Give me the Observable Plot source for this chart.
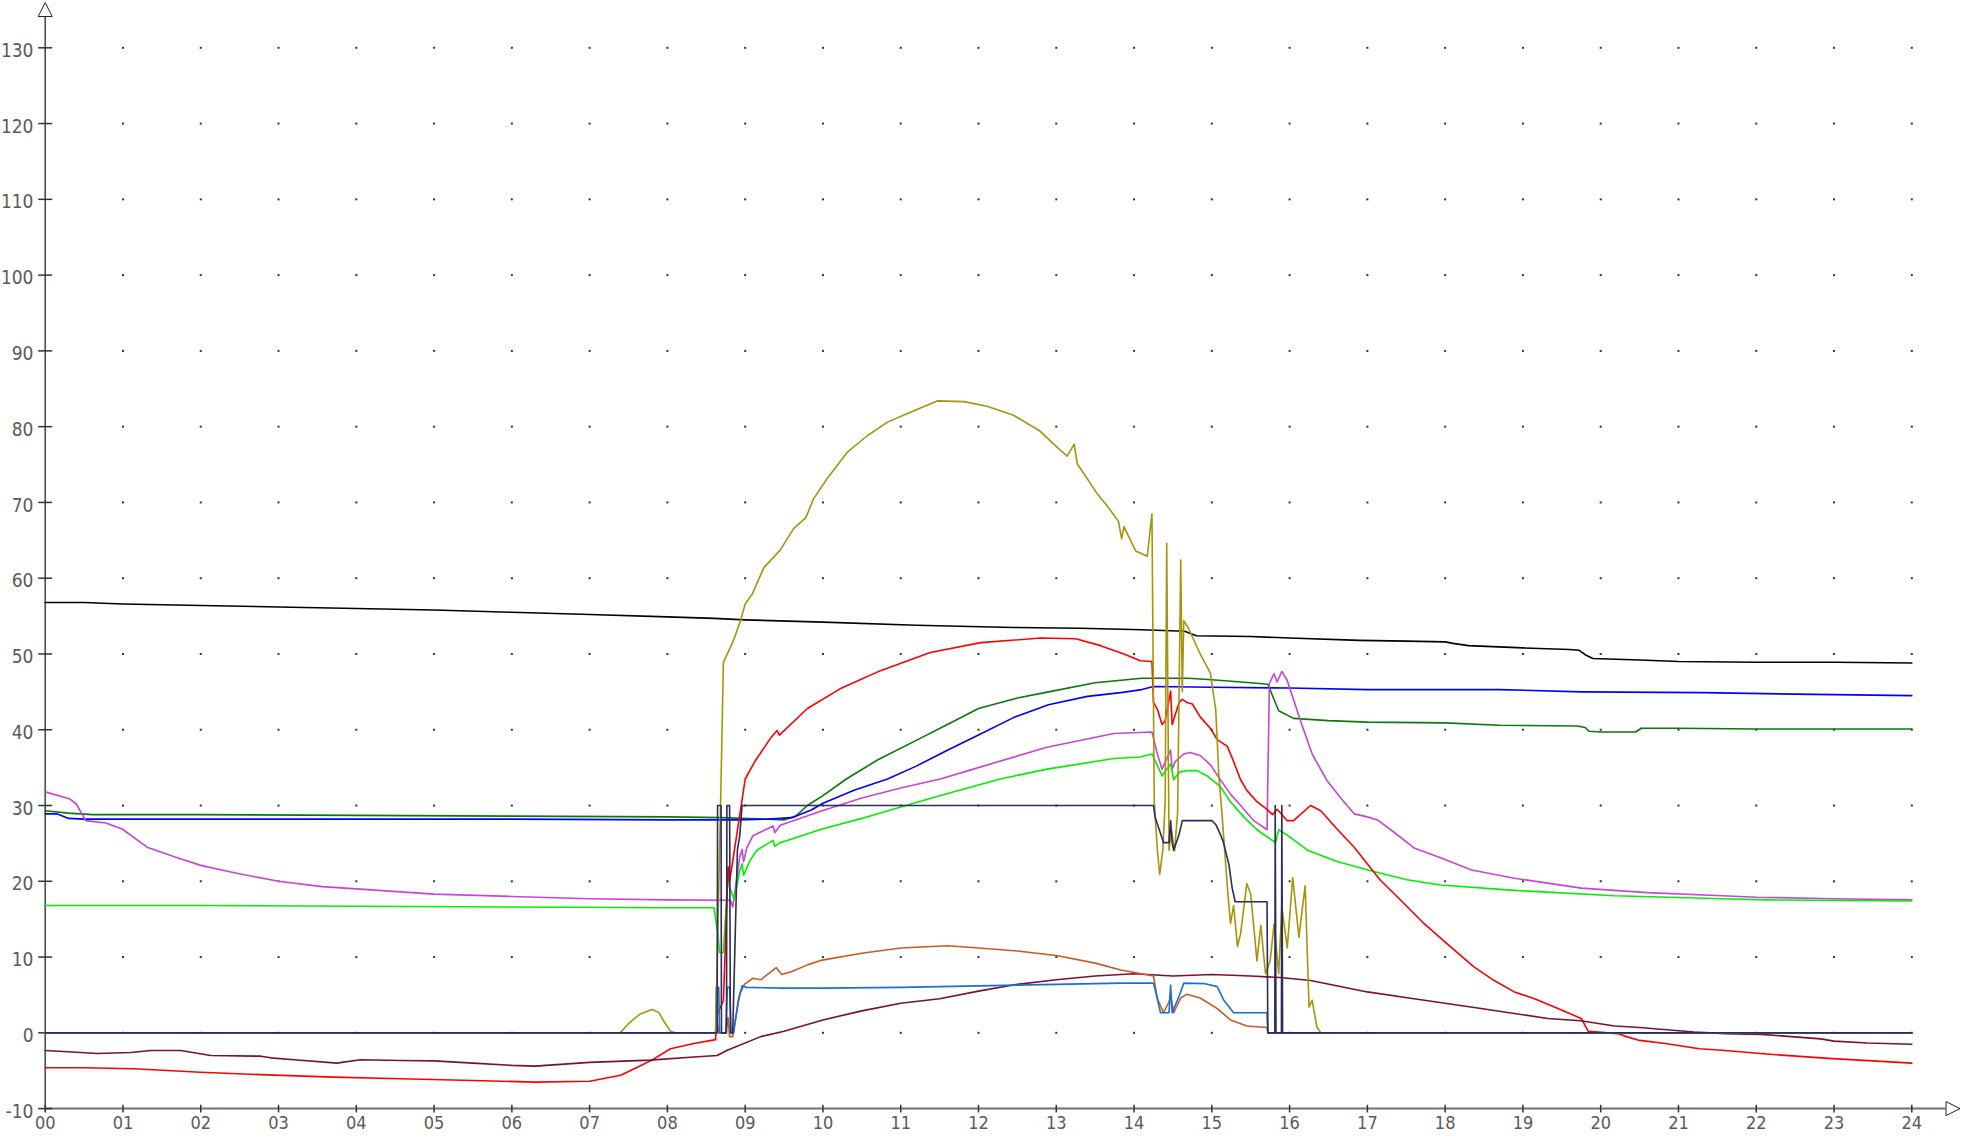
<!DOCTYPE html>
<html>
<head>
<meta charset="utf-8">
<script src="https://cdn.jsdelivr.net/npm/d3@7"></script>
<script src="https://cdn.jsdelivr.net/npm/@observablehq/plot@0.6"></script>
<style>
  html, body { margin: 0; padding: 0; background: #ffffff; overflow: hidden; }
  #chart svg { display: block; }
</style>
</head>
<body>
<div id="chart"></div>
<script>
// ---------- tick values ----------
const hourTicks = d3.range(0, 25);
const valueTicks = d3.range(-10, 131, 10);
const gridHours = d3.range(1, 25);
const gridValues = d3.range(0, 131, 10);

// ---------- series: [hour, value] ----------
const black = [[0,56.8],[0.5,56.8],[1,56.6],[2,56.4],[3,56.2],[4,56.0],[5,55.8],[6,55.5],[7,55.2],[8,54.9],[8.6,54.7],[9,54.5],[10,54.2],[11.2,53.8],[12.45,53.5],[13.3,53.4],[14.1,53.2],[14.65,53.0],[14.8,52.4],[15.5,52.3],[16,52.1],[16.9,51.8],[17.5,51.7],[18.0,51.6],[18.1,51.4],[18.3,51.1],[19.0,50.8],[19.6,50.6],[19.72,50.5],[19.8,49.9],[19.9,49.4],[20.5,49.2],[21.0,49.0],[22,48.9],[23,48.9],[24,48.8]];

const darkGreen = [[0,29.3],[0.3,29.0],[0.6,28.8],[2,28.8],[4,28.7],[6,28.6],[8,28.5],[8.7,28.4],[9.3,28.2],[9.5,28.1],[9.65,28.6],[9.8,30.0],[10.0,31.3],[10.3,33.5],[10.7,36.0],[11.2,38.6],[11.6,40.7],[12.0,42.8],[12.5,44.2],[12.9,45.0],[13.5,46.2],[14.1,46.8],[14.7,46.8],[15.0,46.6],[15.5,46.2],[15.72,46.0],[15.8,44.0],[15.86,42.5],[16.05,41.5],[16.5,41.2],[17.0,41.0],[18.0,40.9],[18.7,40.6],[19.7,40.5],[19.8,40.3],[19.85,39.8],[20.0,39.7],[20.45,39.7],[20.52,40.2],[21,40.2],[22,40.1],[23,40.1],[24,40.1]];

const blue = [[0,28.9],[0.15,28.9],[0.3,28.3],[0.5,28.2],[2,28.2],[4,28.2],[6,28.2],[8,28.1],[8.9,28.1],[9.3,28.2],[9.6,28.4],[9.85,29.4],[10.0,30.3],[10.4,32.0],[10.83,33.5],[11.2,35.2],[11.6,37.3],[12.0,39.3],[12.45,41.6],[12.9,43.3],[13.4,44.4],[13.83,44.9],[14.1,45.3],[14.25,45.7],[15,45.6],[16,45.5],[17,45.3],[18.7,45.3],[19.75,45.0],[21.3,44.9],[22.5,44.7],[24,44.5]];

const magenta = [[0,31.8],[0.31,30.9],[0.4,30.2],[0.52,28.0],[0.78,27.7],[0.99,26.9],[1.31,24.5],[1.67,23.2],[2.0,22.1],[2.49,21.0],[3.0,20.0],[3.56,19.3],[4,19.0],[5,18.3],[6,18.0],[7,17.7],[8,17.55],[8.81,17.5],[8.84,16.6],[8.93,23.2],[8.96,24.2],[8.98,22.6],[9.02,24.4],[9.1,26.0],[9.36,27.3],[9.38,26.4],[9.45,27.4],[9.99,29.3],[10.5,31.0],[11.0,32.3],[11.51,33.5],[12.03,35.1],[12.88,37.7],[13.74,39.5],[14.23,39.7],[14.3,36.8],[14.36,34.8],[14.47,37.3],[14.49,34.8],[14.53,35.8],[14.64,36.8],[14.72,37.0],[14.85,36.6],[14.98,35.4],[15.11,33.4],[15.24,31.5],[15.37,30.0],[15.54,28.0],[15.71,26.8],[15.74,46.1],[15.8,47.4],[15.84,46.3],[15.9,47.7],[15.97,46.5],[16.14,41.2],[16.29,36.8],[16.48,33.3],[16.65,31.1],[16.83,28.9],[17.0,28.5],[17.13,28.1],[17.3,26.8],[17.6,24.4],[17.94,23.1],[18.34,21.5],[18.89,20.4],[19.75,19.1],[20.6,18.5],[21.56,18.1],[22,17.9],[23,17.7],[24,17.55]];

const lime = [[0,16.8],[2,16.8],[4,16.7],[6,16.6],[8,16.5],[8.6,16.5],[8.65,13.0],[8.67,10.6],[8.72,10.6],[8.78,21.0],[8.8,19.2],[8.86,17.6],[8.93,21.4],[8.96,22.3],[8.98,20.8],[9.06,22.7],[9.15,24.1],[9.36,25.4],[9.38,24.6],[9.45,25.1],[9.99,26.9],[10.5,28.3],[11,29.8],[11.5,31.3],[12.0,32.7],[12.28,33.5],[12.88,34.8],[13.74,36.2],[14.08,36.4],[14.23,36.8],[14.3,35.3],[14.36,33.9],[14.47,35.5],[14.51,33.4],[14.58,34.4],[14.68,34.6],[14.81,34.6],[14.94,33.9],[15.11,32.5],[15.24,30.5],[15.41,28.5],[15.58,26.8],[15.82,25.1],[15.86,26.8],[15.97,26.1],[16.23,24.1],[16.61,22.6],[17.08,21.3],[17.51,20.2],[17.94,19.5],[18.89,18.8],[20.18,18.1],[21.56,17.7],[22.14,17.55],[24,17.4]];

const red = [[0,-4.6],[0.5,-4.6],[1.14,-4.75],[2.0,-5.2],[2.85,-5.55],[3.71,-5.85],[4.57,-6.07],[5.5,-6.3],[6.3,-6.5],[7.0,-6.4],[7.4,-5.6],[7.6,-4.6],[7.8,-3.6],[8.04,-2.1],[8.34,-1.4],[8.62,-0.9],[8.64,2.5],[8.72,4.2],[8.78,21.9],[8.8,20.0],[8.96,30.7],[9.0,33.5],[9.13,35.9],[9.32,38.8],[9.41,39.9],[9.44,39.3],[9.8,42.8],[10.22,45.4],[10.74,47.8],[11.38,50.2],[12.03,51.5],[12.8,52.1],[13.25,52.0],[13.57,51.1],[13.87,50.0],[14.08,49.1],[14.23,49.0],[14.25,43.6],[14.3,42.7],[14.36,40.7],[14.4,41.2],[14.47,45.1],[14.49,40.7],[14.53,42.0],[14.58,43.6],[14.62,44.0],[14.68,43.6],[14.75,43.4],[14.85,41.7],[14.98,40.2],[15.07,38.7],[15.2,37.8],[15.28,35.8],[15.37,33.4],[15.45,32.0],[15.58,30.5],[15.71,29.5],[15.78,28.8],[15.84,29.5],[15.97,28.0],[16.05,28.0],[16.27,30.0],[16.4,29.3],[16.61,26.9],[16.83,24.5],[17.17,20.1],[17.43,17.5],[17.73,14.4],[18.03,11.7],[18.37,8.7],[18.63,6.9],[18.89,5.4],[19.15,4.5],[19.45,3.2],[19.75,1.9],[19.84,0.2],[20.22,-0.1],[20.3,-0.4],[20.5,-1.0],[20.83,-1.4],[21.27,-2.1],[21.56,-2.3],[22.13,-2.8],[22.98,-3.4],[23.5,-3.7],[24,-4.0]];

const maroon = [[0,-2.34],[0.46,-2.6],[0.67,-2.73],[1.1,-2.6],[1.36,-2.34],[1.74,-2.34],[2.13,-3.0],[2.77,-3.08],[2.9,-3.3],[3.2,-3.56],[3.75,-4.0],[4.05,-3.56],[4.57,-3.65],[5.0,-3.7],[5.5,-4.0],[6.0,-4.3],[6.3,-4.4],[7.0,-3.9],[7.78,-3.6],[8.34,-3.2],[8.64,-3.0],[8.77,-2.3],[9.2,-0.5],[9.5,0.2],[10,1.7],[10.5,2.9],[11,3.9],[11.5,4.5],[12,5.5],[12.5,6.4],[13,7.0],[13.5,7.5],[14,7.8],[14.5,7.5],[15,7.7],[15.5,7.5],[15.88,7.3],[16.27,6.9],[17,5.4],[17.6,4.5],[18.46,3.2],[19.32,1.9],[19.74,1.6],[20.18,0.9],[20.5,0.7],[21.2,0.1],[21.6,-0.1],[22.06,-0.2],[22.83,-0.8],[23.0,-1.1],[23.43,-1.35],[24,-1.5]];

const orange = [[0,0],[8.62,0],[8.63,2.1],[8.66,0],[8.75,0],[8.78,2.0],[8.8,-0.5],[8.84,-0.5],[8.93,5.1],[8.99,6.4],[9.1,7.2],[9.2,7.0],[9.4,8.6],[9.47,7.7],[9.6,8.1],[9.81,9.0],[9.99,9.6],[10.5,10.5],[11,11.2],[11.6,11.5],[12,11.2],[12.5,10.8],[13,10.2],[13.5,9.2],[13.83,8.3],[14.25,7.5],[14.3,4.5],[14.38,2.65],[14.45,4.1],[14.47,5.0],[14.51,2.65],[14.6,4.6],[14.68,5.1],[14.85,4.6],[15.07,3.2],[15.24,1.7],[15.45,0.9],[15.71,0.7],[15.72,0],[24,0]];

const midBlue = [[0,0],[8.62,0],[8.63,6.0],[8.66,6.0],[8.67,0],[8.75,0],[8.77,6.0],[8.8,6.0],[8.82,0],[8.85,0],[8.91,4.2],[8.96,6.2],[9.02,6.0],[9.5,5.9],[10,5.9],[11,6.0],[12,6.2],[13,6.4],[13.83,6.56],[14.25,6.56],[14.3,4.5],[14.34,2.65],[14.45,2.65],[14.47,6.3],[14.49,2.65],[14.58,4.86],[14.64,6.56],[14.9,6.5],[15.07,6.1],[15.15,4.37],[15.28,2.65],[15.71,2.65],[15.72,0],[24,0]];

const olive = [[0,0],[7.39,0],[7.5,1.2],[7.65,2.5],[7.8,3.07],[7.89,2.7],[7.95,1.6],[8.04,0.2],[8.1,0],[8.62,0],[8.69,33.3],[8.72,48.9],[8.85,51.8],[8.94,54.4],[9.0,56.6],[9.09,57.9],[9.24,61.4],[9.45,63.7],[9.62,66.5],[9.78,68.0],[9.88,70.5],[10.05,73.1],[10.31,76.6],[10.57,78.8],[10.83,80.6],[11.17,82.1],[11.47,83.4],[11.81,83.3],[12.11,82.7],[12.45,81.5],[12.78,79.5],[13.03,77.1],[13.14,76.1],[13.23,77.7],[13.27,75.1],[13.53,71.1],[13.68,69.2],[13.8,67.5],[13.84,65.2],[13.87,66.8],[14.02,63.6],[14.17,62.9],[14.23,68.5],[14.26,30.5],[14.3,24.1],[14.33,20.9],[14.37,24.1],[14.4,30.5],[14.42,64.6],[14.45,24.1],[14.48,26.8],[14.52,24.0],[14.56,29.0],[14.6,62.4],[14.62,45.0],[14.64,54.4],[14.7,53.4],[14.85,50.0],[14.98,47.5],[15.05,42.7],[15.09,34.0],[15.13,29.0],[15.2,19.2],[15.24,14.4],[15.28,16.8],[15.33,11.4],[15.37,13.1],[15.45,19.7],[15.5,18.3],[15.58,9.5],[15.63,14.2],[15.69,7.8],[15.75,9.5],[15.8,14.4],[15.86,7.8],[15.9,16.6],[15.97,11.2],[16.04,20.5],[16.12,12.6],[16.16,16.1],[16.2,19.4],[16.25,3.4],[16.29,4.3],[16.35,0.8],[16.4,0],[24,0]];

const navy = [[0,0],[8.64,0],[8.645,30],[8.69,30],[8.695,0],[8.76,0],[8.765,30],[8.8,30],[8.81,0],[8.84,0],[8.9,24.1],[8.93,26.0],[8.96,30],[14.25,30],[14.27,28.5],[14.38,25.1],[14.45,25.1],[14.47,28],[14.49,25.1],[14.51,24.1],[14.58,26.2],[14.62,28],[15.0,28],[15.05,27.5],[15.11,26.2],[15.15,25.1],[15.22,22.2],[15.26,19.2],[15.3,17.3],[15.71,17.3],[15.72,0],[15.81,0],[15.815,30],[15.825,0],[15.895,0],[15.9,30],[15.91,0],[24,0]];

// drawing order and colours
const seriesTable = [
  {data: black, color: "#000000"},
  {data: darkGreen, color: "#0a780a"},
  {data: blue, color: "#0000ff"},
  {data: magenta, color: "#c845d8"},
  {data: lime, color: "#00f000"},
  {data: red, color: "#ff0000"},
  {data: maroon, color: "#7c1030"},
  {data: orange, color: "#c85a28"},
  {data: midBlue, color: "#1870d0"},
  {data: olive, color: "#a8940a"},
  {data: navy, color: "#2c2c5e"}
];

// axis decoration positions (data units)
const yAxisTop = 134.1, yArrowAt = 135.05;
const xAxisEnd = 24.44, xArrowAt = 24.53;

// custom symbols
const hLine = {draw(ctx, size) { const r = Math.sqrt(size / Math.PI); ctx.moveTo(-r, 0); ctx.lineTo(r, 0); }};
const vLine = {draw(ctx, size) { const r = Math.sqrt(size / Math.PI); ctx.moveTo(0, -r); ctx.lineTo(0, r); }};
const triUp = {draw(ctx, size) { const r = Math.sqrt(size / Math.PI); ctx.moveTo(0, -r); ctx.lineTo(r, r); ctx.lineTo(-r, r); ctx.closePath(); }};
const triRight = {draw(ctx, size) { const r = Math.sqrt(size / Math.PI); ctx.moveTo(r, 0); ctx.lineTo(-r, -r); ctx.lineTo(-r, r); ctx.closePath(); }};
const sq = {draw(ctx, size) { ctx.rect(-1, -1, 2, 2); }};

const gridPts = gridHours.flatMap(h => gridValues.map(v => [h, v]));
const fontStack = '"Liberation Sans Narrow", "DejaVu Sans Condensed", "Liberation Sans", sans-serif';
const yFormat = d => (d < 0 ? "-" + Math.abs(d) : String(d));

const chart = Plot.plot({
  width: 1966,
  height: 1144,
  marginLeft: 44.7,
  marginRight: 54.7,
  marginTop: 47.3,
  marginBottom: 35.9,
  x: {domain: [0, 24]},
  y: {domain: [-10, 130]},
  style: {fontFamily: fontStack, background: "#ffffff", color: "#555"},
  marks: [
    Plot.dot(gridPts, {x: d => d[0], y: d => d[1], symbol: sq, r: 1, fill: "#333", stroke: "none"}),
    Plot.ruleX([0], {y1: -10, y2: yAxisTop, stroke: "#444", strokeWidth: 1.5}),
    Plot.ruleY([-10], {x1: 0, x2: xAxisEnd, stroke: "#707070", strokeWidth: 2}),
    Plot.dot(valueTicks, {x: 0, y: d => d, symbol: hLine, r: 7, stroke: "#333", strokeWidth: 1.5, fill: "none"}),
    Plot.dot(hourTicks, {x: d => d, y: -10, symbol: vLine, r: 3.8, stroke: "#333", strokeWidth: 1.5, fill: "none"}),
    Plot.dot([0], {x: 0, y: yArrowAt, symbol: triUp, r: 7, fill: "#fff", stroke: "#222", strokeWidth: 1}),
    Plot.dot([0], {x: xArrowAt, y: -10, symbol: triRight, r: 7, fill: "#fff", stroke: "#222", strokeWidth: 1}),
    Plot.axisY({ticks: valueTicks, tickFormat: yFormat, tickSize: 0, tickPadding: 11.7, fontSize: 19, fill: "#5a5a5a", dy: 3, label: null}),
    Plot.axisX({ticks: hourTicks, tickFormat: d => d3.format("02d")(d), tickSize: 0, tickPadding: 8, fontSize: 18, fill: "#5a5a5a", label: null}),
    ...seriesTable.map(s => Plot.line(s.data, {x: d => d[0], y: d => d[1], stroke: s.color, strokeWidth: 1.6, strokeLinejoin: "round"}))
  ]
});
document.getElementById("chart").appendChild(chart);
</script>
</body>
</html>
